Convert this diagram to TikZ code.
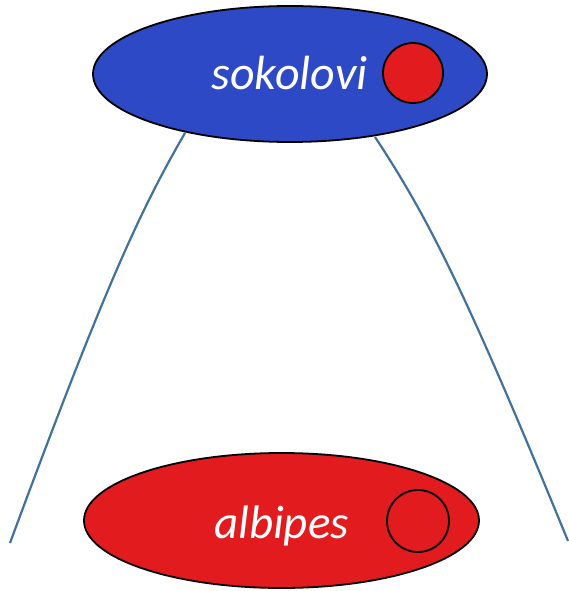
\documentclass[tikz,border=0pt]{standalone}
\usepackage{fontspec}
\setmainfont{Carlito}
\usetikzlibrary{shapes.geometric}
\definecolor{ellblue}{RGB}{46,73,198}
\definecolor{ellred}{RGB}{226,27,30}
\definecolor{linkblue}{RGB}{65,113,156}
\tikzset{
  species/.style={ellipse, draw=black, line width=1.8pt, inner sep=0pt, minimum width=394pt, minimum height=136pt},
  dot/.style={circle, draw=black, line width=1.8pt, inner sep=0pt, minimum size=60pt},
  label/.style={text=white, font=\itshape\fontsize{48}{56}\selectfont, anchor=base, inner sep=0pt},
  link/.style={draw=linkblue, line width=2.2pt}
}
\begin{document}
\begin{tikzpicture}[x=1pt,y=-1pt]
\useasboundingbox (0,0) rectangle (568,591);
% connectors (drawn first, behind the ellipses)
\coordinate (lt) at (185,133);
\coordinate (lb) at (10,543);
\coordinate (rt) at (375,137);
\coordinate (rb) at (568,541);
\draw[link] (lt) .. controls (138.6,213) and (102.5,293) .. (lb);
\draw[link] (rt) .. controls (427.8,217) and (465.5,291) .. (rb);
% top
\node[species, fill=ellblue] (sok) at (290,74) {};
\node[label] (soktxt) at (289.5,90) {sokolovi};
\node[dot, fill=ellred] (sokdot) at (413,73) {};
% bottom
\node[species, fill=ellred, minimum width=395pt, minimum height=135pt] (alb) at (281.5,520.5) {};
\node[label, font=\itshape\fontsize{47}{55}\selectfont] (albtxt) at (281.5,538) {albipes};
\node[dot, minimum size=62pt] (albdot) at (418,521) {};
\end{tikzpicture}
\end{document}
